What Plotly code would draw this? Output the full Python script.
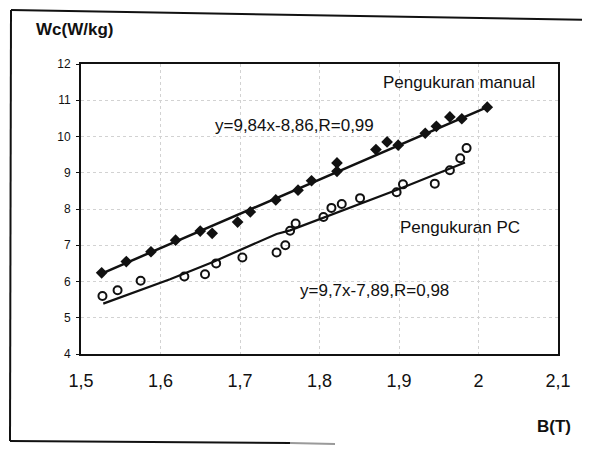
import plotly.graph_objects as go

# ---- data ----
manual_x = [1.526, 1.557, 1.588, 1.619, 1.650, 1.665, 1.697, 1.713, 1.745, 1.773, 1.790,
            1.822, 1.822, 1.871, 1.885, 1.899, 1.933, 1.947, 1.964, 1.979, 2.011]
manual_y = [6.24, 6.55, 6.82, 7.14, 7.39, 7.33, 7.64, 7.92, 8.25, 8.52, 8.78,
            9.27, 9.04, 9.64, 9.85, 9.76, 10.09, 10.28, 10.54, 10.49, 10.81]

pc_x = [1.527, 1.546, 1.575, 1.630, 1.656, 1.670, 1.703, 1.746, 1.757, 1.763, 1.770,
        1.805, 1.815, 1.828, 1.851, 1.897, 1.905, 1.945, 1.964, 1.977, 1.985]
pc_y = [5.60, 5.76, 6.02, 6.14, 6.20, 6.50, 6.66, 6.80, 7.00, 7.40, 7.60,
        7.78, 8.03, 8.14, 8.30, 8.46, 8.68, 8.70, 9.07, 9.40, 9.68]

manual_fit_x = [1.526, 2.011]
manual_fit_y = [6.22, 10.81]
pc_fit_x = [1.528, 1.612, 1.666, 1.746, 1.763, 1.901, 1.983]
pc_fit_y = [5.39, 6.06, 6.54, 7.31, 7.41, 8.56, 9.28]

x_tickvals = [1.5, 1.6, 1.7, 1.8, 1.9, 2.0, 2.1]
x_ticktext = ["1,5", "1,6", "1,7", "1,8", "1,9", "2", "2,1"]
y_tickvals = [4, 5, 6, 7, 8, 9, 10, 11, 12]
y_ticktext = ["4", "5", "6", "7", "8", "9", "10", "11", "12"]

label_manual = "Pengukuran manual"
label_pc = "Pengukuran PC"
eq_manual = "y=9,84x-8,86,R=0,99"
eq_pc = "y=9,7x-7,89,R=0,98"
y_title = "Wc(W/kg)"
x_title = "B(T)"

# ---- layout geometry (page pixels; the page body adds an 8px offset) ----
OFF = 8
W, H = 590 - OFF, 449 - OFF
PLOT_L, PLOT_T, PW, PH = 81, 64, 477, 290      # plot area in page pixels
L, T = PLOT_L - OFF, PLOT_T - OFF
R = W - L - PW
B = H - T - PH


def px(x):
    return (x - PLOT_L) / PW


def py(y):
    return (PLOT_T + PH - y) / PH


FONT = "Liberation Sans, Arial, sans-serif"
INK = "#111111"

fig = go.Figure()
fig.add_trace(go.Scatter(x=manual_fit_x, y=manual_fit_y, mode="lines",
                         line=dict(color=INK, width=2.5), hoverinfo="skip"))
fig.add_trace(go.Scatter(x=pc_fit_x, y=pc_fit_y, mode="lines",
                         line=dict(color=INK, width=2.2), hoverinfo="skip"))
fig.add_trace(go.Scatter(x=manual_x, y=manual_y, mode="markers", name=label_manual,
                         marker=dict(symbol="diamond", size=9, color=INK)))
fig.add_trace(go.Scatter(x=pc_x, y=pc_y, mode="markers", name=label_pc,
                         marker=dict(symbol="circle-open", size=8, color=INK,
                                     line=dict(width=2, color=INK))))

annotations = [
    dict(text=label_manual, x=px(459), y=py(82), size=17),
    dict(text=eq_manual, x=px(294), y=py(125), size=17),
    dict(text=label_pc, x=px(460), y=py(227), size=17),
    dict(text=eq_pc, x=px(374), y=py(290), size=17),
    dict(text="<b>" + y_title + "</b>", x=px(74), y=py(29), size=17),
    dict(text="<b>" + x_title + "</b>", x=px(554), y=py(426), size=17),
]
fig.update_layout(annotations=[
    dict(text=a["text"], x=a["x"], y=a["y"], xref="paper", yref="paper",
         xanchor="center", yanchor="middle", showarrow=False,
         font=dict(family=FONT, size=a["size"], color=INK))
    for a in annotations
])

# outer frame of the scanned figure: top, left and part of the bottom edge
frame = [
    ((11, 10), (590, 20), INK, 2),      # top
    ((11, 10), (10, 441), INK, 2),      # left
    ((10, 441), (290, 443), INK, 2),    # bottom (dark part)
    ((290, 443), (335, 444), "#9a9a9a", 2),  # bottom fading
]
for (x0, y0), (x1, y1), col, w in frame:
    fig.add_shape(type="line", xref="paper", yref="paper",
                  x0=px(x0), y0=py(y0), x1=px(x1), y1=py(y1),
                  line=dict(color=col, width=w))

fig.update_layout(
    width=W, height=H,
    margin=dict(l=L, r=R, t=T, b=B, pad=0),
    paper_bgcolor="white", plot_bgcolor="white",
    showlegend=False,
    font=dict(family=FONT, color=INK),
)
fig.update_xaxes(range=[1.5, 2.1], tickvals=x_tickvals, ticktext=x_ticktext,
                 tickfont=dict(size=18, family=FONT, color=INK),
                 showline=True, linecolor=INK, linewidth=2, mirror=True,
                 showgrid=True, gridcolor="#d2d2d2", griddash="dot", gridwidth=1,
                 zeroline=False, ticks="", ticklabelstandoff=9)
fig.update_yaxes(range=[4, 12], tickvals=y_tickvals, ticktext=y_ticktext,
                 tickfont=dict(size=12, family=FONT, color=INK),
                 showline=True, linecolor=INK, linewidth=2, mirror=True,
                 showgrid=True, gridcolor="#d2d2d2", griddash="dot", gridwidth=1,
                 zeroline=False, ticks="outside", ticklen=3, tickcolor=INK,
                 ticklabelstandoff=3)

fig.write_html("out.html")
